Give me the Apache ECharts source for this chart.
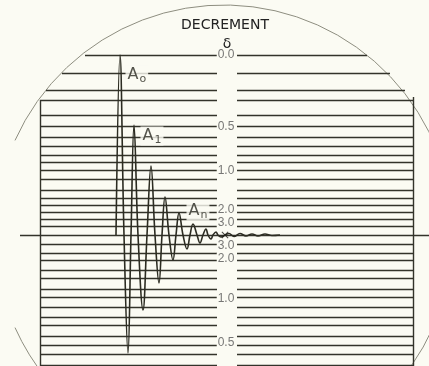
<!DOCTYPE html>
<html><head><meta charset="utf-8">
<script src="https://cdn.jsdelivr.net/npm/echarts@6/dist/echarts.min.js"></script>
<style>html,body{margin:0;padding:0;background:#fbfbf3}#c{width:429px;height:366px}</style>
</head><body><div id="c"></div>
<script>
// Units: x = sweep position, y = trace deflection (0 = centre line, + = up)
const gridLevelsUpper = [180,162,145,135,120,109,98,89,80,73,65,56,45,37,30,23,16,9];
const gridSpansUpper  = [[85,367],[62,390],[46,405]]; // first three lines are bounded by the screen edge
const gridLevelsLower = [-9,-18,-25,-35,-43,-54,-62,-72,-82,-90,-101,-110,-119,-130];
const boxX = [40, 413];
const boxTop = [135, 138];
const boxBottom = -131;
const centreLine = [20, 429];
const labelColumn = [217, 237];

const decrementLabels = ['0.0','0.5','1.0','2.0','3.0','3.0','2.0','1.0','0.5'];
const decrementLevels = [180,108,64,25,12,-11,-24,-64,-108];
const decrementX = 226;

const traceX = [116,120,124,128,131,134,138,143,147,151,155,159,162,165,169,173,176,179,183,187,190,193,197,200,203,206,208,211,213,216,218,221,225,229,234,240,246,252,258,265,272,280];
const traceY = [0,180,0,-118,0,110,0,-75,0,69,0,-48,0,38,0,-25,0,22,0,-14,0,11,0,-8,0,6,0,-4,0,3,0,-2,0,1.5,-1.5,1.5,-1,1,-1,1,-0.5,0];

const peakSubs = ['o','1','n'];
const peakLabelX = [125,140,186];
const peakLabelY = [160,99,24];

const crossPoint = [[225,0]];
const screen = [[224,1,229]]; // centre x, centre y, radius

const bg = '#fbfbf3';
const ink = '#33332a';

const gridData = [];
gridLevelsUpper.forEach((v,i)=>{
  const span = gridSpansUpper[i] || boxX;
  gridData.push([v, span[0], span[1], 1]);
});
gridLevelsLower.forEach(v=>gridData.push([v, boxX[0], boxX[1], 1]));
gridData.push([0, centreLine[0], centreLine[1], 0]);

const chart = echarts.init(document.getElementById('c'), null, {renderer:'canvas'});
chart.setOption({
  backgroundColor: bg,
  animation: false,
  grid: {left:0,right:0,top:0,bottom:0},
  xAxis: {type:'value', min:0, max:429, show:false},
  yAxis: {type:'value', min:-131, max:235, show:false},
  graphic: [
    {type:'text', x:225, y:25, style:{text:'DECREMENT', fontSize:14, fontFamily:'DejaVu Sans', fill:'#222', align:'center', verticalAlign:'middle', textAlign:'center', textVerticalAlign:'middle'}},
    {type:'text', x:227, y:44, style:{text:'δ', fontSize:14, fontFamily:'DejaVu Sans', fill:'#222', align:'center', verticalAlign:'middle', textAlign:'center', textVerticalAlign:'middle'}}
  ],
  series: [
    {
      type:'custom', silent:true, z:1,
      data: screen,
      renderItem(params, api){
        const c = api.coord([api.value(0), api.value(1)]);
        const r = api.size([api.value(2), 0])[0];
        const st = {stroke:'#8e8e80', lineWidth:1, fill:null};
        const a1 = Math.acos((api.coord([15,0])[0]-c[0])/r);
        return {type:'group', children:[
          {type:'arc', shape:{cx:c[0], cy:c[1], r:r, startAngle:2*Math.PI - a1, endAngle:2*Math.PI+0.8, clockwise:true}, style:st},
          {type:'arc', shape:{cx:c[0], cy:c[1], r:r, startAngle:Math.PI*0.78, endAngle:a1, clockwise:true}, style:st}
        ]};
      }
    },
    {
      type:'custom', silent:true, z:2,
      data: gridData,
      renderItem(params, api){
        const y = api.value(0), x0 = api.value(1), x1 = api.value(2), gap = api.value(3);
        const p0 = api.coord([x0, y]), p1 = api.coord([x1, y]);
        const py = Math.round(p0[1]) + 0.5;
        const style = {stroke: ink, lineWidth: 1.3};
        if (!gap) return {type:'line', shape:{x1:p0[0], y1:py, x2:p1[0], y2:py}, style};
        const g0 = api.coord([labelColumn[0], y])[0], g1 = api.coord([labelColumn[1], y])[0];
        return {type:'group', children:[
          {type:'line', shape:{x1:p0[0], y1:py, x2:g0, y2:py}, style},
          {type:'line', shape:{x1:g1, y1:py, x2:p1[0], y2:py}, style}
        ]};
      }
    },
    {
      type:'custom', silent:true, z:2,
      data: [[boxX[0], boxTop[0], boxBottom],[boxX[1], boxTop[1], boxBottom]],
      renderItem(params, api){
        const p0 = api.coord([api.value(0), api.value(1)]);
        const p1 = api.coord([api.value(0), api.value(2)]);
        const px = Math.round(p0[0]) + 0.5;
        return {type:'line', shape:{x1:px, y1:p0[1], x2:px, y2:p1[1]}, style:{stroke:ink, lineWidth:1.4}};
      }
    },
    {
      type:'line', z:5, silent:true,
      data: traceX.map((x,i)=>[x, traceY[i]]),
      smooth: 0.4, symbol:'none',
      lineStyle:{color:'#2c2c22', width:1.6}
    },
    {
      type:'scatter', z:6, silent:true,
      data: crossPoint,
      symbol:'path://M0,1L1,0L5,4L9,0L10,1L6,5L10,9L9,10L5,6L1,10L0,9L4,5Z',
      symbolSize:7, itemStyle:{color:'#1e1e16'}
    },
    {
      type:'scatter', z:7, silent:true,
      data: decrementLevels.map((v,i)=>[decrementX, v, decrementLabels[i]]),
      symbolSize:1, itemStyle:{color:'rgba(0,0,0,0)'},
      label:{show:true, position:'inside', formatter:p=>p.data[2], fontSize:12, fontFamily:'Liberation Sans', color:'#555', backgroundColor:bg, padding:[0,1]}
    },
    {
      type:'scatter', z:7, silent:true,
      data: peakSubs.map((s,i)=>[peakLabelX[i], peakLabelY[i], s]),
      symbolSize:1, itemStyle:{color:'rgba(0,0,0,0)'},
      label:{show:true, position:'right', distance:0, formatter:p=>'{a|A}{s|'+p.data[2]+'}', backgroundColor:bg, padding:[0,2],
        rich:{a:{fontSize:16, fontFamily:'DejaVu Sans', color:'#2a2a22'}, s:{fontSize:11, fontFamily:'DejaVu Sans', color:'#2a2a22', padding:[8,0,0,1]}}}
    }
  ]
});
</script>
</body></html>
